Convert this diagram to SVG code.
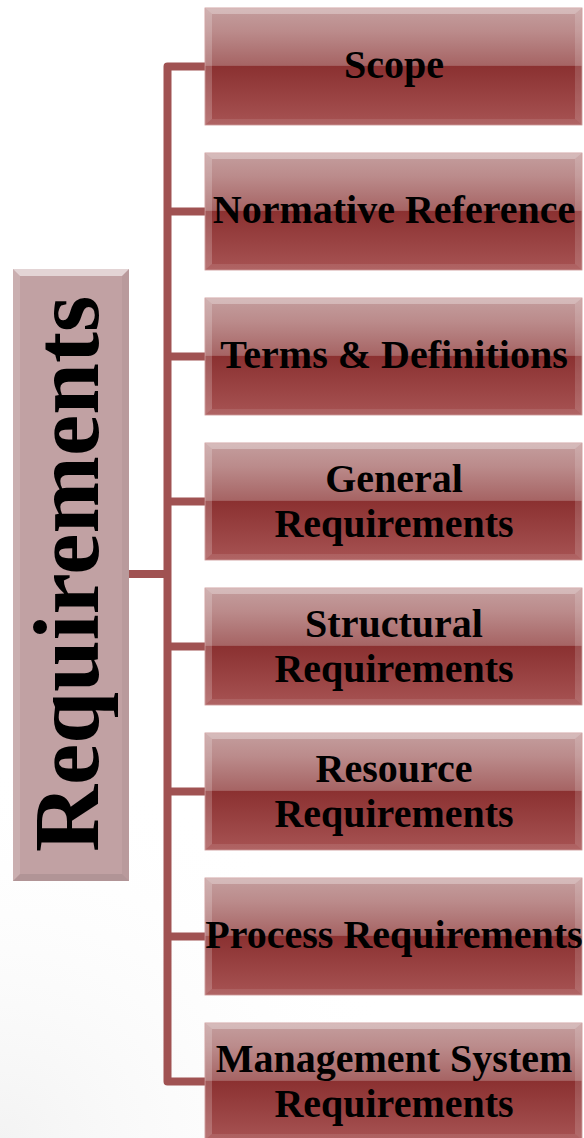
<svg xmlns="http://www.w3.org/2000/svg" width="584" height="1138" viewBox="0 0 584 1138">
<defs>
<linearGradient id="boxg" x1="0" y1="0" x2="0" y2="1">
<stop offset="0" stop-color="#c49e9e"/>
<stop offset="0.2" stop-color="#bb8b8b"/>
<stop offset="0.49" stop-color="#a66464"/>
<stop offset="0.5" stop-color="#8b3131"/>
<stop offset="1" stop-color="#a75353"/>
</linearGradient>
<radialGradient id="bgshade" cx="0" cy="1" r="1">
<stop offset="0" stop-color="#f3f3f3"/>
<stop offset="1" stop-color="#ffffff" stop-opacity="0"/>
</radialGradient>
<g id="bevel">
<polygon points="0,0 377,0 370,6 7,6" fill="#ffffff" fill-opacity="0.3"/>
<polygon points="0,0 7,6 7,111 0,117" fill="#ffffff" fill-opacity="0.2"/>
<polygon points="377,0 377,117 370,111 370,6" fill="#ffffff" fill-opacity="0.15"/>
<polygon points="0,117 7,111 370,111 377,117" fill="#ffffff" fill-opacity="0.1"/>
</g>
</defs>
<style>
.lbl{font-family:"Liberation Serif","Times New Roman",serif;font-weight:bold;font-size:40px;fill:#000;text-anchor:middle}
.conn{fill:none;stroke:#a05252;stroke-width:8;stroke-linejoin:round}
.box{fill:url(#boxg);stroke:#c89090;stroke-width:0.8}
</style>
<rect x="0" y="760" width="420" height="378" fill="url(#bgshade)"/>
<g id="connectors">
<path class="conn" d="M205,66.5 H167.5 V1081.5 H205"/>
<path class="conn" d="M167.5,211.5 H205"/>
<path class="conn" d="M167.5,356.5 H205"/>
<path class="conn" d="M167.5,501.5 H205"/>
<path class="conn" d="M167.5,646.5 H205"/>
<path class="conn" d="M167.5,791.5 H205"/>
<path class="conn" d="M167.5,936.5 H205"/>
<path class="conn" d="M129,574 H167.5"/>
</g>
<g id="root">
<rect x="13" y="269" width="116" height="612" fill="#c1a1a3"/>
<polygon points="13,269 129,269 122,276 20,276" fill="#ffffff" fill-opacity="0.55"/>
<polygon points="13,269 20,276 20,874 13,881" fill="#ffffff" fill-opacity="0.15"/>
<polygon points="129,269 129,881 122,874 122,276" fill="#000000" fill-opacity="0.04"/>
<polygon points="13,881 20,874 122,874 129,881" fill="#000000" fill-opacity="0.08"/>
<text transform="translate(98,574) rotate(-90)" x="0" y="0" style="font-family:'Liberation Serif','Times New Roman',serif;font-weight:bold;font-size:93px;text-anchor:middle;fill:#000">Requirements</text>
</g>
<g id="n1" transform="translate(205,8)">
<rect class="box" width="377" height="117"/><use href="#bevel"/>
<text class="lbl" x="189" y="69.5">Scope</text>
</g>
<g id="n2" transform="translate(205,153)">
<rect class="box" width="377" height="117"/><use href="#bevel"/>
<text class="lbl" x="189" y="70">Normative Reference</text>
</g>
<g id="n3" transform="translate(205,298)">
<rect class="box" width="377" height="117"/><use href="#bevel"/>
<text class="lbl" x="189" y="70">Terms &amp; Definitions</text>
</g>
<g id="n4" transform="translate(205,443)">
<rect class="box" width="377" height="117"/><use href="#bevel"/>
<text class="lbl" x="189" y="48.5">General</text>
<text class="lbl" x="189" y="93.5">Requirements</text>
</g>
<g id="n5" transform="translate(205,588)">
<rect class="box" width="377" height="117"/><use href="#bevel"/>
<text class="lbl" x="189" y="48.5">Structural</text>
<text class="lbl" x="189" y="93.5">Requirements</text>
</g>
<g id="n6" transform="translate(205,733)">
<rect class="box" width="377" height="117"/><use href="#bevel"/>
<text class="lbl" x="189" y="48.5">Resource</text>
<text class="lbl" x="189" y="93.5">Requirements</text>
</g>
<g id="n7" transform="translate(205,878)">
<rect class="box" width="377" height="117"/><use href="#bevel"/>
<text class="lbl" x="189" y="70">Process Requirements</text>
</g>
<g id="n8" transform="translate(205,1023)">
<rect class="box" width="377" height="117"/><use href="#bevel"/>
<text class="lbl" x="189" y="48.5">Management System</text>
<text class="lbl" x="189" y="93.5">Requirements</text>
</g>
</svg>
